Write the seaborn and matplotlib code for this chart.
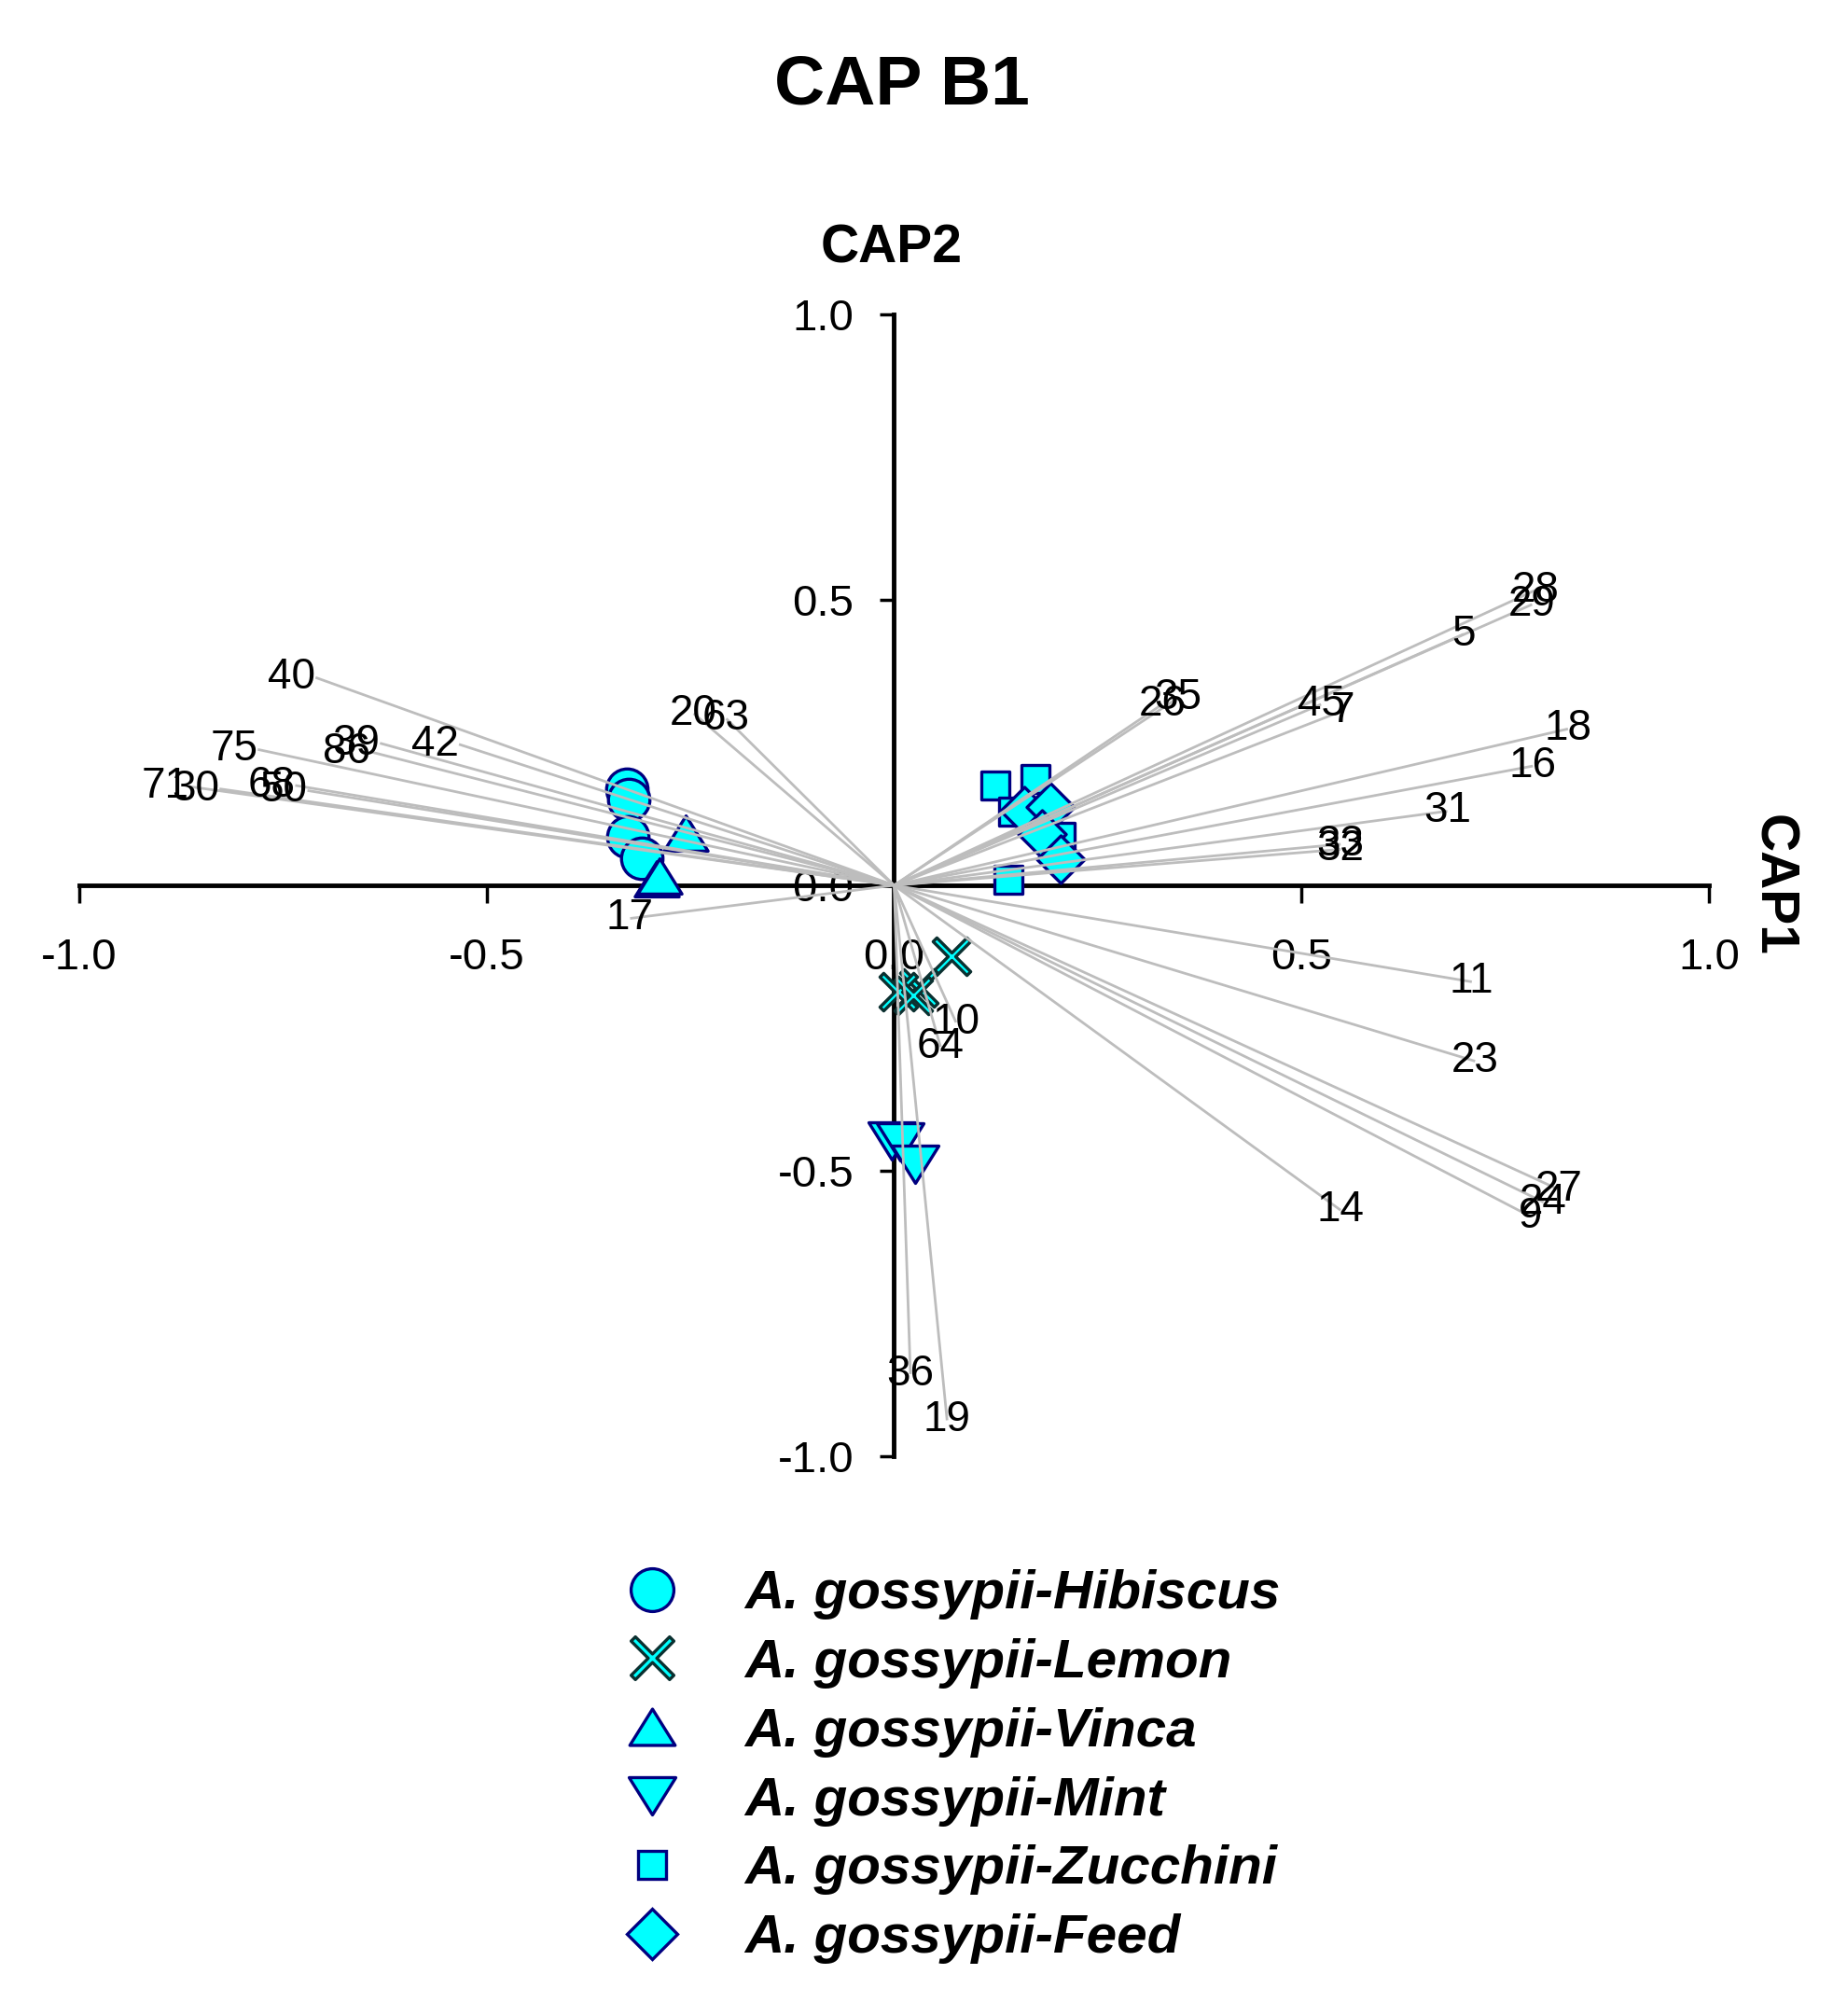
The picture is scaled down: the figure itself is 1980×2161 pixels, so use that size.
import numpy as np
import pandas as pd
import matplotlib
matplotlib.use("Agg")
import matplotlib.pyplot as plt
import seaborn as sns
from matplotlib.path import Path
from matplotlib.lines import Line2D
from matplotlib.font_manager import FontProperties

# ---------------- data ----------------
vec_labels = ["40", "75", "39", "86", "42", "71", "30", "68", "50", "20", "63", "17",
              "28", "29", "5", "26", "35", "45", "7", "18", "16", "31", "33", "32",
              "11", "23", "27", "24", "9", "14", "10", "64", "36", "19"]
vec_x = [-0.710, -0.781, -0.631, -0.643, -0.534, -0.865, -0.828, -0.735, -0.720, -0.246, -0.206, -0.324,
         0.787, 0.783, 0.699, 0.329, 0.348, 0.524, 0.551, 0.827, 0.784, 0.679, 0.548, 0.548,
         0.709, 0.713, 0.816, 0.797, 0.781, 0.548, 0.076, 0.057, 0.020, 0.065]
vec_y = [0.364, 0.238, 0.249, 0.234, 0.247, 0.173, 0.169, 0.175, 0.166, 0.301, 0.292, -0.058,
         0.517, 0.492, 0.440, 0.317, 0.328, 0.317, 0.306, 0.274, 0.209, 0.130, 0.072, 0.063,
         -0.169, -0.308, -0.533, -0.555, -0.580, -0.569, -0.240, -0.283, -0.856, -0.937]

group_names = ["A. gossypii-Hibiscus", "A. gossypii-Lemon", "A. gossypii-Vinca",
               "A. gossypii-Mint", "A. gossypii-Zucchini", "A. gossypii-Feed"]
hibiscus_x = [-0.328, -0.326, -0.327, -0.310]
hibiscus_y = [0.168, 0.150, 0.085, 0.047]
lemon_x = [0.070, 0.030, 0.005, 0.024]
lemon_y = [-0.124, -0.180, -0.186, -0.193]
vinca_x = [-0.256, -0.291, -0.288]
vinca_y = [0.092, 0.012, 0.016]
mint_x = [-0.003, 0.008, 0.026]
mint_y = [-0.447, -0.450, -0.488]
zucchini_x = [0.124, 0.173, 0.146, 0.204, 0.140]
zucchini_y = [0.175, 0.186, 0.129, 0.085, 0.010]
feed_x = [0.160, 0.192, 0.181, 0.204]
feed_y = [0.130, 0.137, 0.090, 0.045]

tick_vals = [-1.0, -0.5, 0.0, 0.5, 1.0]
tick_text = ["-1.0", "-0.5", "0.0", "0.5", "1.0"]

# ---------------- marker shapes ----------------
def closed(verts):
    codes = [Path.MOVETO] + [Path.LINETO] * (len(verts) - 1) + [Path.CLOSEPOLY]
    return Path(list(verts) + [verts[0]], codes)

tri_up = closed([(0, 0.8), (-1, -0.8), (1, -0.8)])
tri_down = closed([(0, -0.8), (-1, 0.8), (1, 0.8)])
d = 0.2
thin_x = closed([(0, d), (1 - d, 1), (1, 1 - d), (d, 0), (1, -(1 - d)), (1 - d, -1),
                 (0, -d), (-(1 - d), -1), (-1, -(1 - d)), (-d, 0), (-1, 1 - d), (-(1 - d), 1)])

CYAN = "#00FFFF"
NAVY = "#000080"
XEDGE = "#0b3030"

styles = {
    "A. gossypii-Hibiscus": dict(marker="o", ms=32, lms=33, ec=NAVY),
    "A. gossypii-Lemon": dict(marker=thin_x, ms=29, lms=33, ec=XEDGE),
    "A. gossypii-Vinca": dict(marker=tri_up, ms=34, lms=35, ec=NAVY),
    "A. gossypii-Mint": dict(marker=tri_down, ms=36, lms=36, ec=NAVY),
    "A. gossypii-Zucchini": dict(marker="s", ms=22, lms=21, ec=NAVY),
    "A. gossypii-Feed": dict(marker="D", ms=26, lms=28, ec=NAVY),
}

df = pd.concat([
    pd.DataFrame({"x": hibiscus_x, "y": hibiscus_y, "group": group_names[0]}),
    pd.DataFrame({"x": lemon_x, "y": lemon_y, "group": group_names[1]}),
    pd.DataFrame({"x": vinca_x, "y": vinca_y, "group": group_names[2]}),
    pd.DataFrame({"x": mint_x, "y": mint_y, "group": group_names[3]}),
    pd.DataFrame({"x": zucchini_x, "y": zucchini_y, "group": group_names[4]}),
    pd.DataFrame({"x": feed_x, "y": feed_y, "group": group_names[5]}),
], ignore_index=True)

# ---------------- figure ----------------
sns.set_theme(style="white")
plt.rcParams["font.family"] = ["Liberation Sans", "DejaVu Sans"]
for key in ["text.color", "axes.labelcolor", "xtick.color", "ytick.color", "axes.edgecolor"]:
    plt.rcParams[key] = "black"

W, H = 1981, 2161
fig = plt.figure(figsize=(W / 100, H / 100), dpi=100)
ax = fig.add_axes([85 / W, 1 - 1561 / H, 1747 / W, 1224 / H])
ax.set_facecolor("white")

for g in group_names:
    st = styles[g]
    sub = df[df["group"] == g]
    sns.scatterplot(data=sub, x="x", y="y", marker=st["marker"], s=st["ms"] ** 2,
                    color=CYAN, edgecolor=st["ec"], linewidth=2.4, ax=ax,
                    legend=False, zorder=2)

for lab, vx, vy in zip(vec_labels, vec_x, vec_y):
    ax.plot([0, vx], [0, vy], color="#bdbdbd", lw=2.0, zorder=3, solid_capstyle="butt")
    ha = "right" if vx < -0.5 else "center"
    ax.text(vx, vy, lab, ha=ha, va="center", fontsize=33, color="black", zorder=4)

ax.set_xlim(-1, 1)
ax.set_ylim(-1, 1)
ax.set_xlabel("")
ax.set_ylabel("")
for side in ["top", "right"]:
    ax.spines[side].set_visible(False)
for side in ["left", "bottom"]:
    ax.spines[side].set_position(("data", 0))
    ax.spines[side].set_linewidth(3.5)
    ax.spines[side].set_color("black")
    ax.spines[side].set_zorder(1)
ax.set_xticks(tick_vals)
ax.set_xticklabels(tick_text)
ax.set_yticks(tick_vals)
ax.set_yticklabels(tick_text)
ax.tick_params(axis="x", direction="out", length=14, width=2.5, pad=26,
               labelsize=34, colors="black", bottom=True)
ax.tick_params(axis="y", direction="out", length=11, width=2.5, pad=20,
               labelsize=34, colors="black", left=True)
ax.grid(False)

fig.text(967 / W, 1 - 92 / H, "CAP B1", ha="center", va="center",
         fontsize=54, fontweight="bold", color="black")
fig.text(956 / W, 1 - 266 / H, "CAP2", ha="center", va="center",
         fontsize=41, fontweight="bold", color="black")
fig.text(1900 / W, 1 - 949 / H, "CAP1", ha="center", va="center", rotation=-90,
         fontsize=41, fontweight="bold", color="black")

handles = []
for g in group_names:
    st = styles[g]
    handles.append(Line2D([], [], ls="none", marker=st["marker"], ms=st["lms"],
                          mfc=CYAN, mec=st["ec"], mew=2.4))
leg_font = FontProperties(family="Liberation Sans", weight="bold", style="italic", size=42)
leg = fig.legend(handles, group_names, loc="upper left", bbox_to_anchor=(670 / W, 1 - 1682 / H),
                 frameon=False, prop=leg_font, handlelength=1.0, handletextpad=1.2,
                 labelspacing=0.34, borderpad=0, borderaxespad=0)
for t in leg.get_texts():
    t.set_color("black")

fig.savefig("out.png", dpi=100, facecolor="white")
